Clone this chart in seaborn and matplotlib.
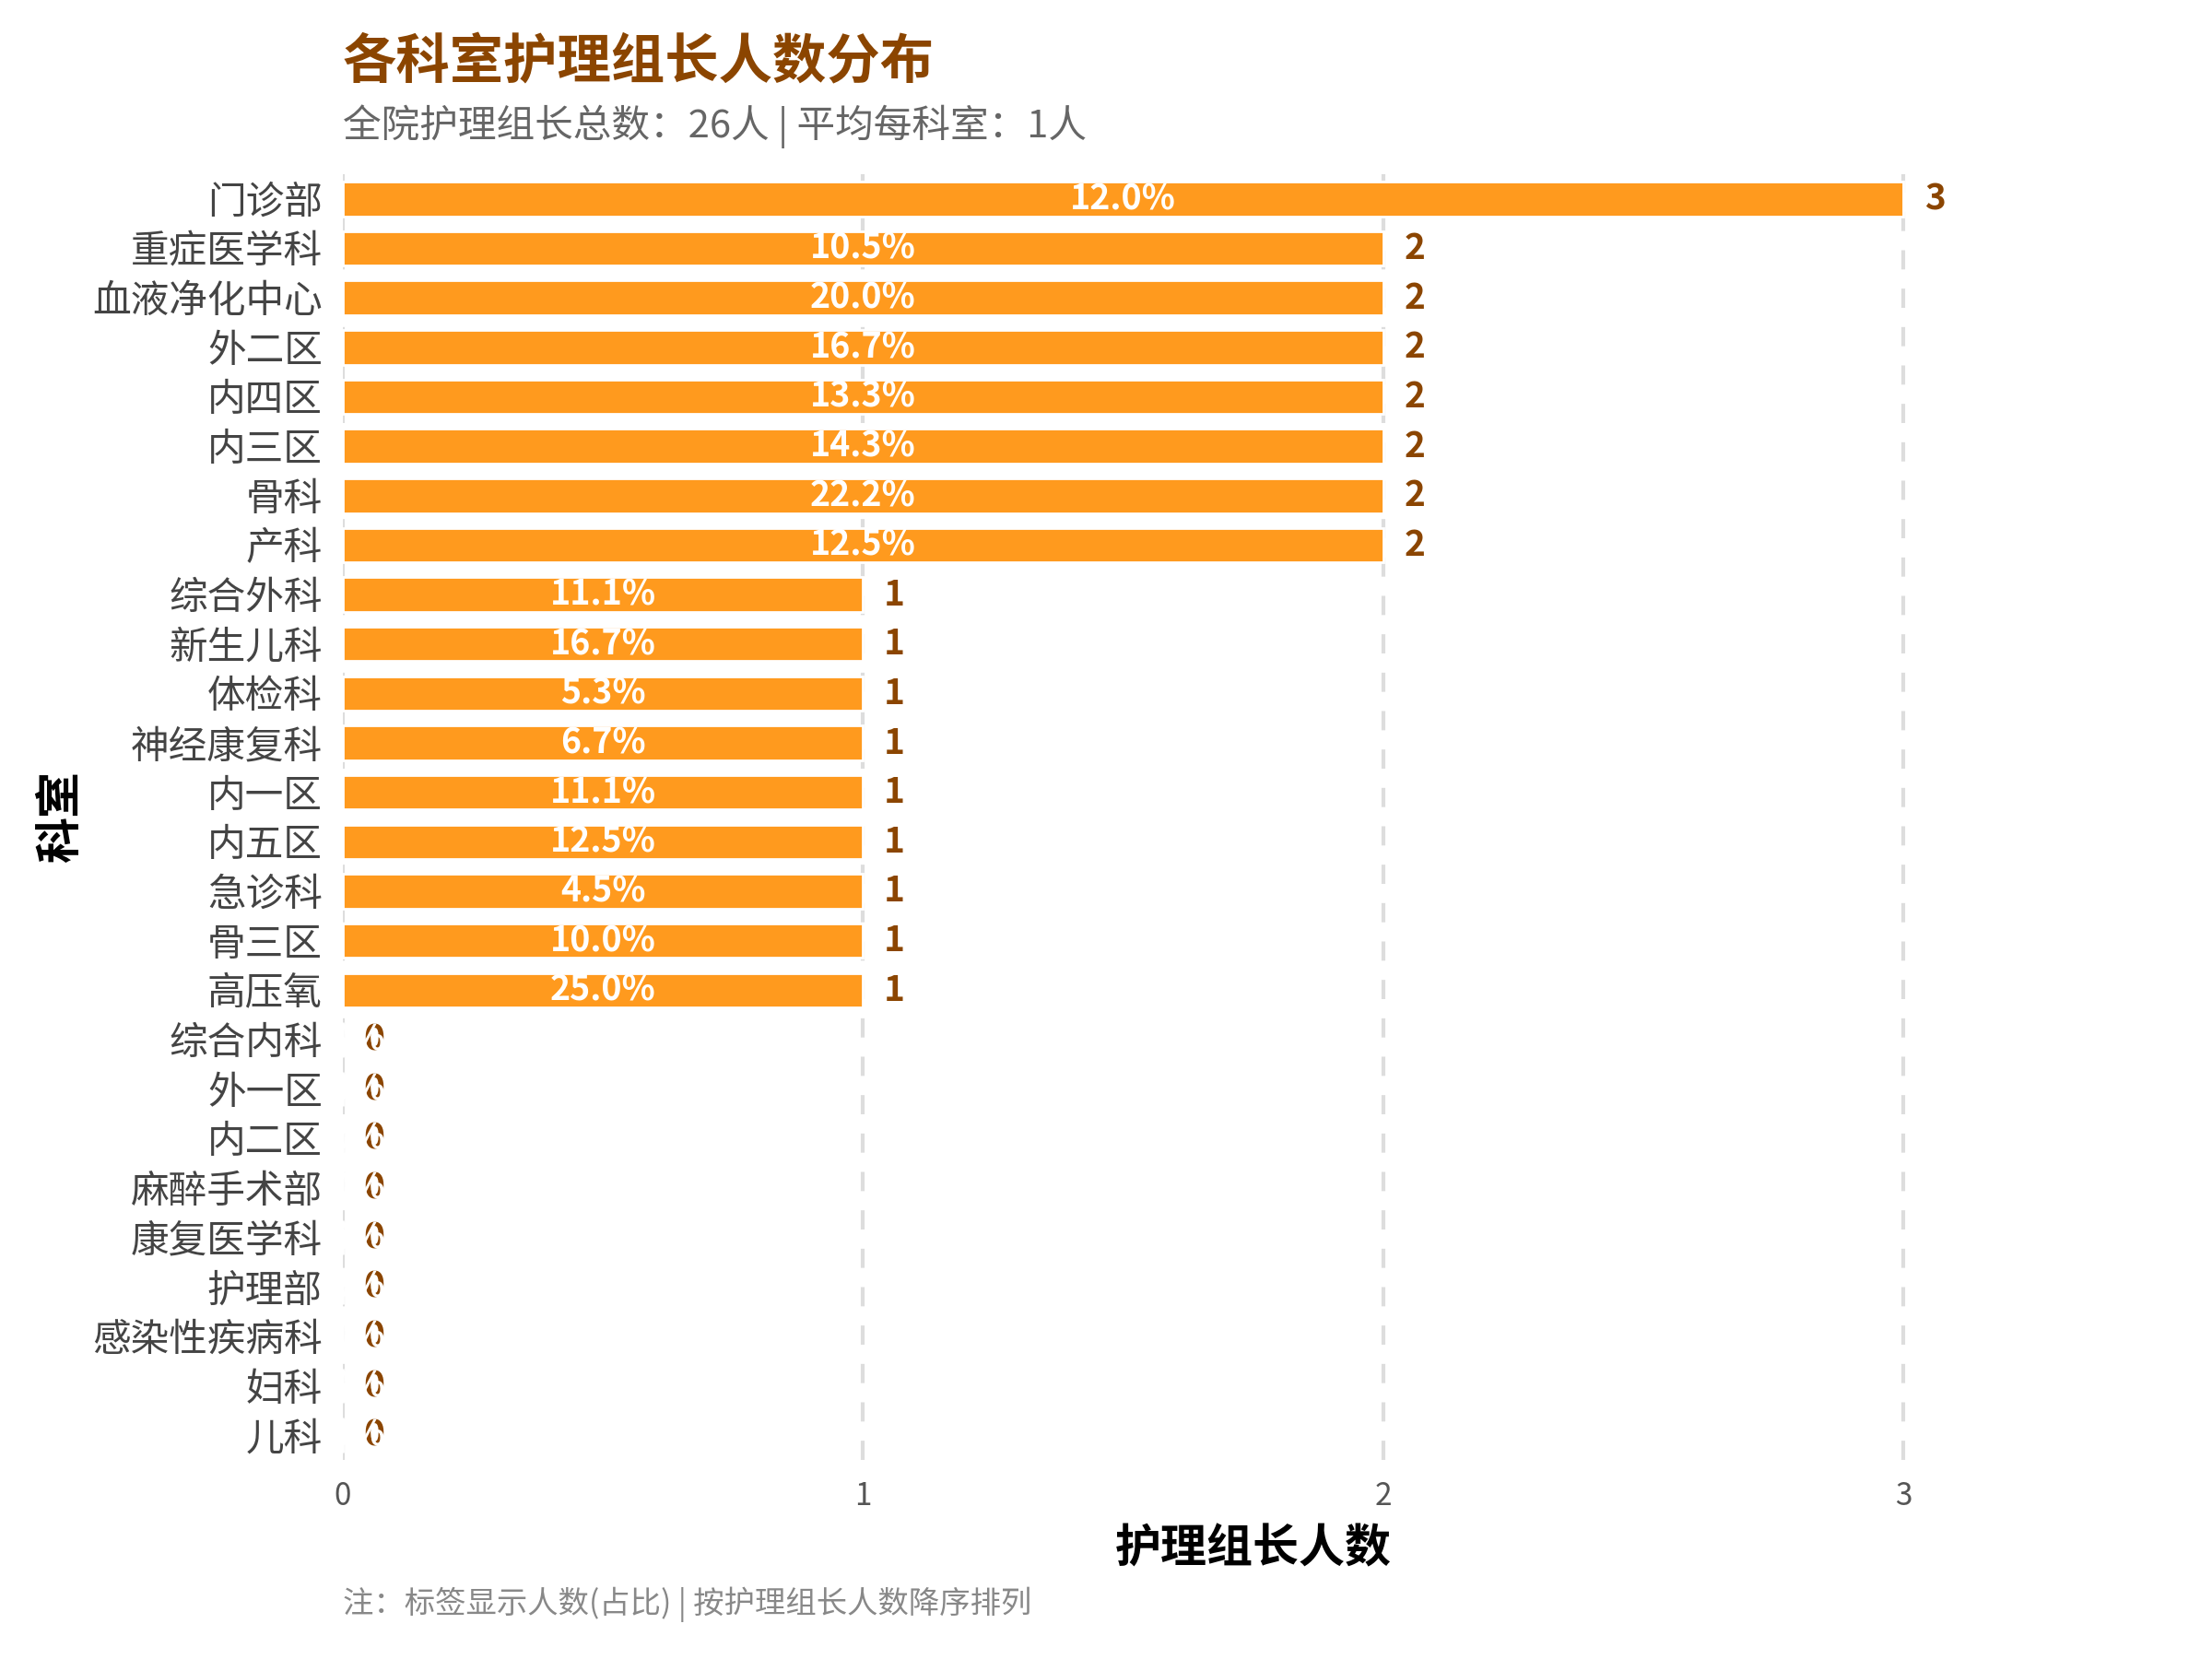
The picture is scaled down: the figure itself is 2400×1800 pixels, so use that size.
import pandas as pd
import seaborn as sns
import matplotlib.pyplot as plt

# 数据
depts = ['门诊部', '重症医学科', '血液净化中心', '外二区', '内四区', '内三区', '骨科', '产科',
         '综合外科', '新生儿科', '体检科', '神经康复科', '内一区', '内五区', '急诊科', '骨三区', '高压氧',
         '综合内科', '外一区', '内二区', '麻醉手术部', '康复医学科', '护理部', '感染性疾病科', '妇科', '儿科']
counts = [3, 2, 2, 2, 2, 2, 2, 2,
          1, 1, 1, 1, 1, 1, 1, 1, 1,
          0, 0, 0, 0, 0, 0, 0, 0, 0]
pcts = [12.0, 10.5, 20.0, 16.7, 13.3, 14.3, 22.2, 12.5,
        11.1, 16.7, 5.3, 6.7, 11.1, 12.5, 4.5, 10.0, 25.0,
        0.0, 0.0, 0.0, 0.0, 0.0, 0.0, 0.0, 0.0, 0.0]

df = pd.DataFrame({'科室': depts, '人数': counts, '占比': pcts})

sns.set_theme(style='white')
plt.rcParams['font.family'] = ['Noto Sans CJK SC', 'DejaVu Sans']

fig = plt.figure(figsize=(12, 9), dpi=200)
ax = fig.add_axes([0.155, 0.12, 0.823, 0.775])

sns.barplot(data=df, y='科室', x='人数', orient='h', color='#FF9A1E',
            width=0.7, saturation=1, ax=ax)

brown = '#8B4500'
for i, (c, p) in enumerate(zip(counts, pcts)):
    ax.text(c + 0.04, i, str(c), ha='left', va='center', fontsize=14,
            fontweight='bold', color=brown)
    ax.text(c / 2, i, f'{p:.1f}%', ha='center', va='center', fontsize=13.5,
            fontweight='bold', color='white', clip_on=True)

ax.set_xlim(0, 3.5)
ax.set_xticks([0, 1, 2, 3])
ax.grid(axis='x', linestyle='--', color='#DDDDDD', linewidth=1.5, dashes=(5, 5))
ax.grid(axis='y', visible=False)
ax.set_axisbelow(True)
sns.despine(ax=ax, left=True, bottom=True)
ax.tick_params(axis='y', labelsize=15, labelcolor='#444444', length=0, pad=8)
ax.tick_params(axis='x', labelsize=12, labelcolor='#555555', length=0, pad=8)

ax.set_xlabel('护理组长人数', fontsize=18, fontweight='bold', color='black', labelpad=5)
ax.set_ylabel('科室', fontsize=18, fontweight='bold', color='black', labelpad=3)

fig.text(0.155, 0.962, '各科室护理组长人数分布', fontsize=21, fontweight='bold',
         color=brown, ha='left', va='center')
fig.text(0.155, 0.924, '全院护理组长总数：26人 | 平均每科室：1人', fontsize=15,
         color='#666666', ha='left', va='center')
fig.text(0.155, 0.033, '注：标签显示人数(占比) | 按护理组长人数降序排列', fontsize=12,
         color='#888888', ha='left', va='center')

fig.savefig('out.png', dpi=200)
